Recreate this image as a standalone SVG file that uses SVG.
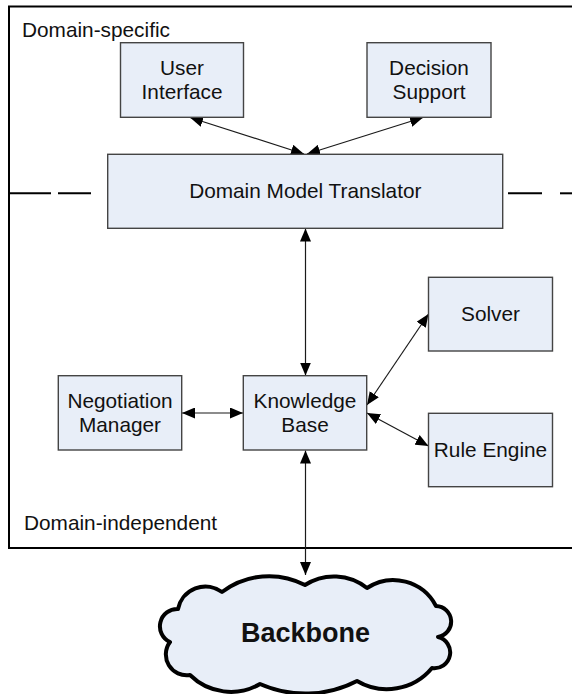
<svg xmlns="http://www.w3.org/2000/svg" width="572" height="694" viewBox="0 0 572 694">
<style>
.box{fill:#e8eef8;stroke:#444;stroke-width:1.4}
.t{font-family:"Liberation Sans",Arial,sans-serif;font-size:20.8px;fill:#111;text-anchor:middle}
.lbl{font-family:"Liberation Sans",Arial,sans-serif;font-size:20.8px;fill:#111}
.c{stroke:#1a1a1a;stroke-width:1.2;fill:none;marker-start:url(#ah);marker-end:url(#ah)}
.dash{stroke:#000;stroke-width:2}
</style>
<defs>
<marker id="ah" markerUnits="userSpaceOnUse" markerWidth="14" markerHeight="11" refX="13" refY="5.5" orient="auto-start-reverse" viewBox="0 0 14 11">
<path d="M0,0 L13,5.5 L0,11 z" fill="#000"/>
</marker>
</defs>
<rect id="frame" x="9" y="6.5" width="600" height="541.5" fill="#fff" stroke="#000" stroke-width="2"/>
<text class="lbl" x="22" y="37">Domain-specific</text>
<text class="lbl" x="24" y="530">Domain-independent</text>
<g id="divider">
<line class="dash" x1="9" y1="193.3" x2="51" y2="193.3"/>
<line class="dash" x1="58" y1="193.3" x2="91" y2="193.3"/>
<line class="dash" x1="508" y1="193.3" x2="542" y2="193.3"/>
<line class="dash" x1="560" y1="193.3" x2="572" y2="193.3"/>
</g>
<g id="connectors">
<line class="c" x1="190" y1="117.5" x2="304" y2="154"/>
<line class="c" x1="423" y1="117.5" x2="307" y2="154"/>
<line class="c" x1="305.5" y1="228.5" x2="305.5" y2="375.5"/>
<line class="c" x1="182" y1="413" x2="243" y2="413"/>
<line class="c" x1="367" y1="405" x2="428.5" y2="314"/>
<line class="c" x1="367" y1="413" x2="428.5" y2="446"/>
<line class="c" x1="305.5" y1="450.5" x2="305.5" y2="575"/>
</g>
<g id="user-interface">
<rect class="box" x="120.5" y="42.7" width="123" height="74.6"/>
<text class="t" x="182" y="74.5">User</text>
<text class="t" x="182" y="99">Interface</text>
</g>
<g id="decision-support">
<rect class="box" x="367" y="42.7" width="124" height="74.6"/>
<text class="t" x="429" y="74.5">Decision</text>
<text class="t" x="429" y="99">Support</text>
</g>
<g id="domain-model-translator">
<rect class="box" x="107.7" y="154.3" width="395" height="74"/>
<text class="t" x="305.3" y="197.5">Domain Model Translator</text>
</g>
<g id="solver">
<rect class="box" x="428.5" y="277.3" width="124" height="73.7"/>
<text class="t" x="490.5" y="321">Solver</text>
</g>
<g id="knowledge-base">
<rect class="box" x="243.3" y="375.7" width="123.4" height="74.3"/>
<text class="t" x="305" y="407.5">Knowledge</text>
<text class="t" x="305" y="432">Base</text>
</g>
<g id="negotiation-manager">
<rect class="box" x="58.3" y="375.7" width="123.4" height="74.3"/>
<text class="t" x="120" y="407.5">Negotiation</text>
<text class="t" x="120" y="432">Manager</text>
</g>
<g id="rule-engine">
<rect class="box" x="428.5" y="413.3" width="124" height="73.4"/>
<text class="t" x="490.5" y="457">Rule Engine</text>
</g>
<g id="backbone">
<path d="M178,609 A28,28 0 0 1 222,592 A77.7,77.7 0 0 1 305,585 A53,53 0 0 1 367,588 A48,48 0 0 1 436,606 A15.6,15.6 0 0 1 438,637 A15.8,15.8 0 0 1 432,668 A58.6,58.6 0 0 1 357,681 A112,112 0 0 1 260,684 A58,58 0 0 1 190,675 A20.8,20.8 0 0 1 170,642 A17.3,17.3 0 0 1 178,609 Z" fill="#e8eef8" stroke="#000" stroke-width="4" stroke-linejoin="round"/>
<text x="305.5" y="642" font-family="Liberation Sans,Arial,sans-serif" font-size="27" font-weight="bold" text-anchor="middle" fill="#111">Backbone</text>
</g>
</svg>
